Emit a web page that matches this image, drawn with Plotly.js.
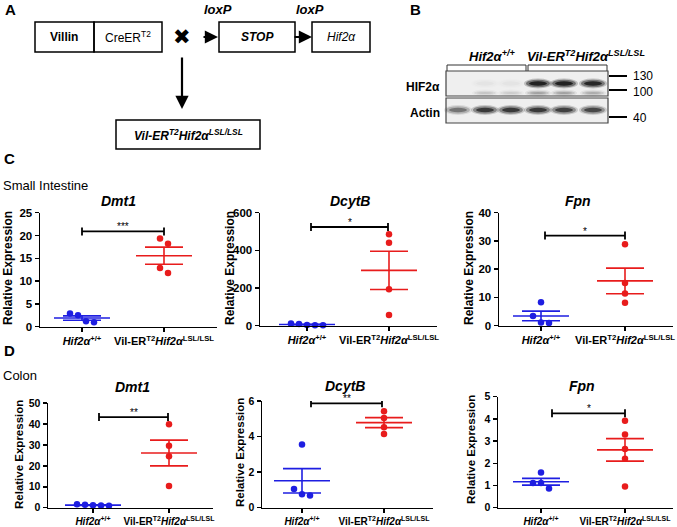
<!DOCTYPE html>
<html><head><meta charset="utf-8">
<script src="https://cdn.plot.ly/plotly-3.0.1.min.js"></script>
<style>html,body{margin:0;padding:0;background:#fff}#chart{width:677px;height:527px}</style>
</head><body><div id="chart"></div>
<script>
// ---------------- DATA ----------------
const groupLabels = ['<i>Hif2α</i><sup>+/+</sup>', 'Vil-ER<sup>T2</sup><i>Hif2α</i><sup>LSL/LSL</sup>'];
const geneNames = ['Dmt1', 'DcytB', 'Fpn', 'Dmt1', 'DcytB', 'Fpn'];
const sigLabels = ['***', '*', '*', '**', '**', '*'];
// Small intestine
const siDmt1Wt = [2.5, 2.9, 1.2, 1.0];
const siDmt1Mut = [19.35, 18.2, 12.9, 11.8];
const siDcytbWt = [12, 9, 4, 3, 2];
const siDcytbMut = [485, 440, 193, 57];
const siFpnWt = [8.3, 3.4, 1.1, 1.0];
const siFpnMut = [28.8, 15.1, 11.4, 8.1];
// Colon
const coDmt1Wt = [1.6, 1.4, 1.2, 1.0, 0.9];
const coDmt1Mut = [39.9, 29.6, 24.6, 10.4];
const coDcytbWt = [3.56, 1.05, 0.75, 0.69];
const coDcytbMut = [5.42, 5.05, 4.52, 4.15];
const coFpnWt = [1.59, 1.11, 1.11, 0.86];
const coFpnMut = [3.92, 3.30, 2.64, 2.21, 0.95];
// axis scales
const yMax = [25, 600, 40, 50, 6, 5];
const yStep = [5, 200, 10, 10, 2, 1];
// western blot band intensities (lanes 1-6)
const hifBand = [0, 0.03, 0.03, 1, 1, 0.95];
const hifLowBand = [0, 0.15, 0.12, 0.3, 0.3, 0.25];
const actinBand = [0.45, 0.8, 0.8, 0.8, 0.75, 0.7];

// ---------------- LAYOUT HELPERS ----------------
const W = 677, H = 527;
const PX = x => x / W;
const PY = y => 1 - y / H;
const FONT = 'Liberation Sans, Arial, Helvetica, sans-serif';
const BLUE = 'rgb(30,30,225)';
const RED = 'rgb(232,28,28)';

const panels = [
  {wt: siDmt1Wt, mut: siDmt1Mut, x0: 40, x1: 217, yTop: 212.7, yBot: 326.7, c1: 82, c2: 164, b1: 82, b2: 164, bY: 20.9, tX: 118, tY: 201, rX: 8, rY: 268, fs: 11, rfs: 12},
  {wt: siDcytbWt, mut: siDcytbMut, x0: 260, x1: 437, yTop: 212.7, yBot: 325.7, c1: 307, c2: 389, b1: 311, b2: 388, bY: 524, tX: 350, tY: 201, rX: 230, rY: 268, fs: 11, rfs: 12},
  {wt: siFpnWt, mut: siFpnMut, x0: 499, x1: 673, yTop: 212.7, yBot: 325.7, c1: 541, c2: 625, b1: 545, b2: 625, bY: 31.9, tX: 578, tY: 201, rX: 469, rY: 268, fs: 11, rfs: 12},
  {wt: coDmt1Wt, mut: coDmt1Mut, x0: 48, x1: 213, yTop: 403, yBot: 507.7, c1: 93, c2: 169, b1: 99, b2: 168, bY: 43.3, tX: 132, tY: 387, rX: 19, rY: 455, fs: 10, rfs: 11.5},
  {wt: coDcytbWt, mut: coDcytbMut, x0: 262, x1: 433, yTop: 401, yBot: 507.7, c1: 302, c2: 384, b1: 311, b2: 382, bY: 5.87, tX: 345, tY: 386, rX: 240, rY: 453, fs: 10, rfs: 11.5},
  {wt: coFpnWt, mut: coFpnMut, x0: 498, x1: 673, yTop: 396.7, yBot: 507.7, c1: 541, c2: 625, b1: 552, b2: 625, bY: 4.25, tX: 582, tY: 386, rX: 471, rY: 450, fs: 10, rfs: 11.5}
];

function mean(a) { return a.reduce((s, v) => s + v, 0) / a.length; }
function sem(a) {
  const m = mean(a);
  const v = a.reduce((s, x) => s + (x - m) * (x - m), 0) / (a.length - 1);
  return Math.sqrt(v) / Math.sqrt(a.length);
}
// simple beeswarm: spread points that would overlap vertically
function swarm(vals, center, thr, spread) {
  const idx = vals.map((v, i) => i).sort((a, b) => vals[b] - vals[a]);
  const clusters = [];
  let cur = [idx[0]];
  for (let k = 1; k < idx.length; k++) {
    if (vals[idx[k - 1]] - vals[idx[k]] < thr) cur.push(idx[k]);
    else { clusters.push(cur); cur = [idx[k]]; }
  }
  clusters.push(cur);
  const xs = new Array(vals.length);
  clusters.forEach(c => {
    const n = c.length;
    c.forEach((id, j) => { xs[id] = center + (j - (n - 1) / 2) * spread; });
  });
  return xs;
}

const traces = [];
const layout = {
  width: W, height: H,
  margin: {l: 0, r: 0, t: 0, b: 0},
  paper_bgcolor: '#fff', plot_bgcolor: 'rgba(0,0,0,0)',
  showlegend: false,
  font: {family: FONT, color: '#000'},
  annotations: [], shapes: []
};

panels.forEach((p, i) => {
  const s = i === 0 ? '' : String(i + 1);
  const xa = 'x' + s, ya = 'y' + s;
  const spx = p.c2 - p.c1;
  const d = px => 1 + (px - p.c1) / spx;
  const ypx = (p.yBot - p.yTop) / yMax[i];
  const thr = 6.5 / ypx;
  const spread = 8 / spx;

  [[p.wt, 1, BLUE], [p.mut, 2, RED]].forEach(([vals, c, col]) => {
    traces.push({
      type: 'scatter', mode: 'markers', xaxis: xa, yaxis: ya,
      x: swarm(vals, c, thr, spread), y: vals,
      marker: {color: col, size: 6.5}, cliponaxis: false, hoverinfo: 'y'
    });
    const m = mean(vals), e = sem(vals);
    const hw = 28 / spx, hs = 19 / spx;
    traces.push({
      type: 'scatter', mode: 'lines', xaxis: xa, yaxis: ya,
      x: [c - hw, c + hw, null, c - hs, c + hs, null, c - hs, c + hs, null, c, c],
      y: [m, m, null, m + e, m + e, null, m - e, m - e, null, m - e, m + e],
      line: {color: col, width: 1.6}, cliponaxis: false, hoverinfo: 'skip'
    });
  });

  const cap = 4 / ypx;
  const bx1 = d(p.b1), bx2 = d(p.b2);
  traces.push({
    type: 'scatter', mode: 'lines', xaxis: xa, yaxis: ya,
    x: [bx1, bx1, null, bx1, bx2, null, bx2, bx2],
    y: [p.bY - cap, p.bY + cap, null, p.bY, p.bY, null, p.bY - cap, p.bY + cap],
    line: {color: '#000', width: 1.8}, cliponaxis: false, hoverinfo: 'skip'
  });

  layout['xaxis' + s] = {
    domain: [PX(p.x0), PX(p.x1)], range: [d(p.x0), d(p.x1)], anchor: ya,
    showline: true, linecolor: '#000', linewidth: 1.5,
    ticks: 'outside', ticklen: 4, tickwidth: 1.5, tickcolor: '#000',
    tickvals: [1, 2], ticktext: groupLabels,
    tickfont: {family: FONT, size: p.fs, color: '#000', weight: 'bold'},
    showgrid: false, zeroline: false, fixedrange: true
  };
  layout['yaxis' + s] = {
    domain: [PY(p.yBot), PY(p.yTop)], range: [0, yMax[i]], anchor: xa,
    tick0: 0, dtick: yStep[i],
    showline: true, linecolor: '#000', linewidth: 1.5,
    ticks: 'outside', ticklen: 4, tickwidth: 1.5, tickcolor: '#000',
    tickfont: {family: FONT, size: p.fs + 0.5, color: '#000', weight: 'bold'},
    showgrid: false, zeroline: false, fixedrange: true
  };

  layout.annotations.push({
    xref: 'paper', yref: 'paper', x: PX(p.tX), y: PY(p.tY), showarrow: false,
    text: '<b><i>' + geneNames[i] + '</i></b>', font: {size: 14, family: FONT, color: '#000'},
    xanchor: 'center', yanchor: 'middle'
  });
  layout.annotations.push({
    xref: 'paper', yref: 'paper', x: PX(p.rX), y: PY(p.rY), showarrow: false,
    text: '<b>Relative Expression</b>', textangle: -90, font: {size: p.rfs, family: FONT, color: '#000'},
    xanchor: 'center', yanchor: 'middle'
  });
  const bpx = p.yBot - p.bY * ypx;
  layout.annotations.push({
    xref: 'paper', yref: 'paper', x: PX((p.b1 + p.b2) / 2), y: PY(bpx + 3), showarrow: false,
    text: sigLabels[i], font: {size: 10, family: FONT, color: '#000'},
    xanchor: 'center', yanchor: 'bottom'
  });
});

// ---------------- Section labels ----------------
function txt(x, y, text, size, extra) {
  layout.annotations.push(Object.assign({
    xref: 'paper', yref: 'paper', x: PX(x), y: PY(y), text: text, showarrow: false,
    font: {size: size, family: FONT, color: '#000'}, xanchor: 'center', yanchor: 'middle'
  }, extra || {}));
}
txt(3, 10, '<b>A</b>', 15, {xanchor: 'left'});
txt(408, 10, '<b>B</b>', 15, {xanchor: 'left'});
txt(2, 158, '<b>C</b>', 15, {xanchor: 'left'});
txt(2, 350, '<b>D</b>', 15, {xanchor: 'left'});
txt(1, 185, 'Small Intestine', 13, {xanchor: 'left'});
txt(1, 375, 'Colon', 13, {xanchor: 'left'});

// ---------------- Panel A diagram ----------------
function rect(x0, y0, x1, y1, opts) {
  layout.shapes.push(Object.assign({
    type: 'rect', xref: 'paper', yref: 'paper',
    x0: PX(x0), x1: PX(x1), y0: PY(y1), y1: PY(y0),
    line: {color: '#000', width: 1.5}
  }, opts || {}));
}
rect(35, 22, 94, 52);
rect(94, 22, 162, 52);
rect(219, 22, 295, 52);
rect(312, 22, 370, 52);
rect(116, 120, 260, 149);
txt(64, 37, '<b>Villin</b>', 12);
txt(128, 37, 'CreER<sup>T2</sup>', 12);
txt(257, 37, '<b><i>STOP</i></b>', 12);
txt(341, 37, '<i>Hif2α</i>', 12);
txt(218, 9, '<b><i>loxP</i></b>', 13);
txt(310, 9, '<b><i>loxP</i></b>', 13);
txt(188, 135, '<b><i>Vil-ER<sup>T2</sup>Hif2α<sup>LSL/LSL</sup></i></b>', 12);
txt(182, 37, '✖', 21, {font: {size: 21, family: 'DejaVu Sans', color: '#000'}});
function arrow(hx, hy, ax, ay) {
  layout.annotations.push({
    xref: 'paper', yref: 'paper', x: PX(hx), y: PY(hy), text: '', showarrow: true,
    ax: ax, ay: ay, arrowhead: 2, arrowsize: 1.2, arrowwidth: 2.2, arrowcolor: '#000', standoff: 0
  });
}
arrow(218, 37, -16, 0);
arrow(312, 37, -19, 0);
arrow(182, 109, 0, -53);

// ---------------- Panel B blot ----------------
function path(pts) {
  return 'M' + pts.map(p => PX(p[0]) + ',' + PY(p[1])).join(' L');
}
layout.shapes.push({type: 'path', xref: 'paper', yref: 'paper', path: path([[447, 71], [447, 65], [526, 65], [526, 71]]), line: {color: '#333', width: 1}});
layout.shapes.push({type: 'path', xref: 'paper', yref: 'paper', path: path([[528, 71], [528, 65], [607, 65], [607, 71]]), line: {color: '#333', width: 1}});
rect(446, 71, 608, 96, {fillcolor: '#efefef', line: {color: '#444', width: 1.2}, layer: 'below'});
rect(446, 98, 608, 123, {fillcolor: '#efefef', line: {color: '#444', width: 1.2}, layer: 'below'});
const laneX = [458, 485, 511, 538, 564, 593];
function band(cx, cy, w, h, a) {
  if (a <= 0) return;
  [[w + 6, h + 4, 0.22], [w + 2, h + 1.5, 0.45], [w - 4, h - 1.5, 0.85]].forEach(([ww, hh, o]) => {
    layout.shapes.push({
      type: 'circle', xref: 'paper', yref: 'paper',
      x0: PX(cx - ww / 2), x1: PX(cx + ww / 2), y0: PY(cy + hh / 2), y1: PY(cy - hh / 2),
      fillcolor: 'rgba(20,20,20,' + (o * a).toFixed(3) + ')', line: {width: 0}
    });
  });
}
laneX.forEach((x, k) => {
  band(x, 83.5, 22, 6, hifBand[k]);
  band(x, 93, 20, 3, hifLowBand[k]);
  band(x, 110, 22, 6, actinBand[k]);
});
[76, 90, 117].forEach(y => {
  layout.shapes.push({type: 'line', xref: 'paper', yref: 'paper', x0: PX(609), x1: PX(627), y0: PY(y), y1: PY(y), line: {color: '#000', width: 2}});
});
txt(631, 76, '130', 12, {xanchor: 'left'});
txt(631, 92, '100', 12, {xanchor: 'left'});
txt(631, 118, '40', 12, {xanchor: 'left'});
txt(442, 87, '<b>HIF2α</b>', 12, {xanchor: 'right'});
txt(442, 113, '<b>Actin</b>', 12, {xanchor: 'right'});
txt(492, 56, '<b><i>Hif2α<sup>+/+</sup></i></b>', 13);
txt(586, 56, '<b><i>Vil-ER<sup>T2</sup>Hif2α<sup>LSL/LSL</sup></i></b>', 13);

Plotly.newPlot('chart', traces, layout, {displayModeBar: false, staticPlot: true});
</script>
</body></html>
